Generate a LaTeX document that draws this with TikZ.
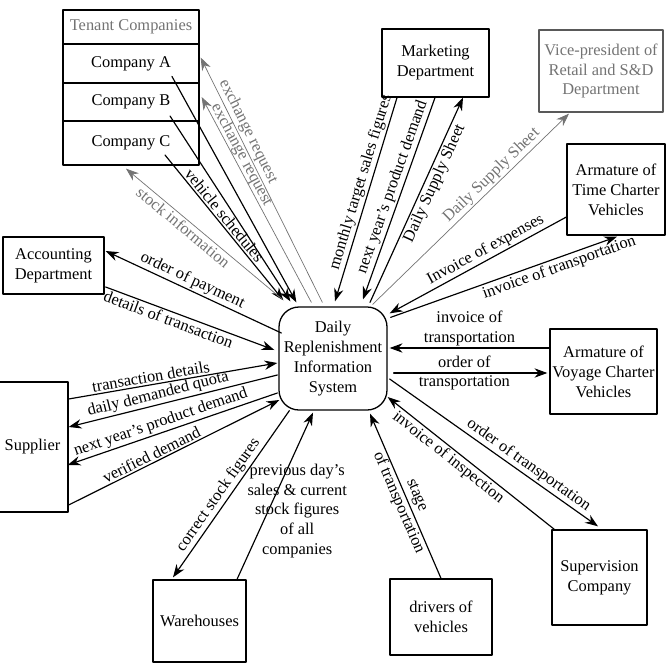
\documentclass[tikz,border=0pt]{standalone}
\usepackage{fontspec}
\setmainfont{Liberation Serif}
\usetikzlibrary{arrows.meta}

\begin{document}
\begin{tikzpicture}[x=0.03cm, y=-0.03cm, font=\fontsize{14}{17}\selectfont,
    line join=round, line cap=round, >={Stealth[length=11pt,width=8pt]},
    box/.style={draw, line width=1.1pt, inner sep=2pt, align=center},
    flow/.style={->, line width=1pt},
    faint/.style={->, black!55, line width=0.6pt},
    lab/.style={sloped, inner sep=1.5pt}]
\useasboundingbox (0,0) rectangle (667,672);
% the system in the middle
\node[box, rounded corners=0.6cm, minimum width=3.24cm, minimum height=3.09cm] (sys) at (333,358.5) {Daily\\Replenishment\\Information\\System};
% tenant companies (stacked boxes)
\node[box, text=black!55, minimum width=4.08cm, minimum height=1.02cm] (tenant) at (131,27) {Tenant Companies};
\node[box, minimum width=4.08cm, minimum height=1.17cm] (compA) at (131,63.5) {Company A};
\node[box, minimum width=4.08cm, minimum height=1.14cm] (compB) at (131,102) {Company B};
\node[box, minimum width=4.08cm, minimum height=1.32cm] (compC) at (131,143) {Company C};
% the other boxes
\node[box, minimum width=3.03cm, minimum height=1.71cm] (acct) at (53.5,265.5) {Accounting\\Department};
\node[box, minimum width=3.21cm, minimum height=2.04cm] (mkt) at (435.5,63) {Marketing\\Department};
\node[box, draw=black!65, text=black!55, minimum width=3.72cm, minimum height=2.46cm] (vp) at (601,71) {Vice-president of\\Retail and S\&D\\Department};
\node[box, minimum width=2.94cm, minimum height=2.73cm] (tcv) at (616,189.5) {Armature of\\Time Charter\\Vehicles};
\node[box, minimum width=3.21cm, minimum height=2.55cm] (vcv) at (603.5,371.5) {Armature of\\Voyage Charter\\Vehicles};
\node[box, minimum width=2.13cm, minimum height=3.9cm] (sup) at (32.5,447) {Supplier};
\node[box, minimum width=2.79cm, minimum height=2.46cm] (wh) at (199.5,621) {Warehouses};
\node[box, minimum width=3.06cm, minimum height=2.28cm] (drv) at (441,617) {drivers of\\vehicles};
\node[box, minimum width=2.85cm, minimum height=2.85cm] (svc) at (599.5,577.5) {Supervision\\Company};
% tenant companies <-> system
\draw[flow] ([shift={(41,13)}]compA.center) -- ([shift={(18,-4)}]sys.north west);
\draw[flow] ([shift={(39,14)}]compB.center) -- ([shift={(12,-5)}]sys.north west);
\draw[flow] ([shift={(34,12)}]compC.center) -- node[lab, above, pos=0.45] {vehicle schedules} ([shift={(5,-6)}]sys.north west);
\draw[faint] ([shift={(44,-4)}]sys.north west) -- node[lab, above, pos=0.68] {exchange request} ([shift={(1,-6)}]compA.east);
\draw[faint] ([shift={(33,-4)}]sys.north west) -- node[lab, above, pos=0.7, inner sep=0pt] {exchange request} ([shift={(2,-5)}]compB.east);
\draw[faint] ([shift={(4,-7)}]sys.north west) -- node[lab, below, pos=0.6] {stock information} ([shift={(-5,3)}]compC.south);
% accounting
\draw[flow] ([shift={(3,-25.5)}]sys.west) -- node[lab, above, pos=0.53] {order of payment} ([shift={(1,-14.5)}]acct.east);
\draw[flow] ([shift={(1,21.5)}]acct.east) -- node[lab, below, pos=0.39] {details of transaction} ([shift={(-4,-8.5)}]sys.west);
% supplier
\draw[flow] ([shift={(0,-48)}]sup.east) -- node[lab, above, pos=0.4] {transaction details} ([shift={(-1,4.5)}]sys.west);
\draw[flow] ([shift={(-1,16.5)}]sys.west) -- node[lab, above, pos=0.56] {daily demanded quota} ([shift={(0,-20)}]sup.east);
\draw[flow] ([shift={(-1,34.5)}]sys.west) -- node[lab, above, pos=0.54] {next year's product demand} ([shift={(-1,18)}]sup.east);
\draw[flow] ([shift={(0,58)}]sup.east) -- node[lab, above, pos=0.41] {verified demand} ([shift={(1,41.5)}]sys.west);
% warehouses
\draw[flow] ([shift={(11,0)}]sys.south west) -- node[lab, above, pos=0.54] {correct stock figures} ([shift={(-26.5,-2)}]wh.north);
\draw[flow] ([shift={(37.5,0)}]wh.north) -- node[pos=0.41, shift={(29,0)}, align=center] {previous day's\\sales \& current\\stock figures\\of all\\companies} ([shift={(-20,2)}]sys.south);
% drivers
\draw[flow] (drv.north) -- node[lab, pos=0.48, align=center] {stage\\of transportation} ([shift={(37,3)}]sys.south);
% supervision company
\draw[flow] ([shift={(3,0)}]svc.north west) -- node[lab, below, pos=0.6] {invoice of inspection} ([shift={(0,38.5)}]sys.east);
\draw[flow] ([shift={(2,20.5)}]sys.east) -- node[lab, above, pos=0.64] {order of transportation} ([shift={(-1.5,-3)}]svc.north);
% voyage charter
\draw[flow] ([shift={(0,-23.5)}]vcv.west) -- node[above, align=center, inner sep=1pt] {invoice of\\transportation} ([shift={(2,-10.5)}]sys.east);
\draw[flow] ([shift={(6,14.5)}]sys.east) -- node[pos=0.46, align=center] {order of\\transportation} ([shift={(-2,1.5)}]vcv.west);
% time charter
\draw[flow] ([shift={(3,11)}]sys.north east) -- node[lab, below, pos=0.73] {invoice of transportation} ([shift={(1,1)}]tcv.south);
\draw[flow] ([shift={(0,27.5)}]tcv.west) -- node[lab, above, pos=0.43] {Invoice of expenses} ([shift={(2,7)}]sys.north east);
% marketing and vice-president
\draw[faint] ([shift={(-15,-2)}]sys.north east) -- node[lab, above, pos=0.64] {Daily Supply Sheet} ([shift={(-32,1)}]vp.south);
\draw[flow] ([shift={(37,-4)}]sys.north) -- node[lab, below, pos=0.6] {Daily Supply Sheet} ([shift={(27.5,0)}]mkt.south);
\draw[flow] ([shift={(-0.5,0)}]mkt.south) -- node[lab, above, pos=0.46] {next year's product demand} ([shift={(30,-7)}]sys.north);
\draw[flow] ([shift={(-38.5,0)}]mkt.south) -- node[lab, above, pos=0.43] {monthly target sales figures} ([shift={(2,-5)}]sys.north);
\end{tikzpicture}
\end{document}
